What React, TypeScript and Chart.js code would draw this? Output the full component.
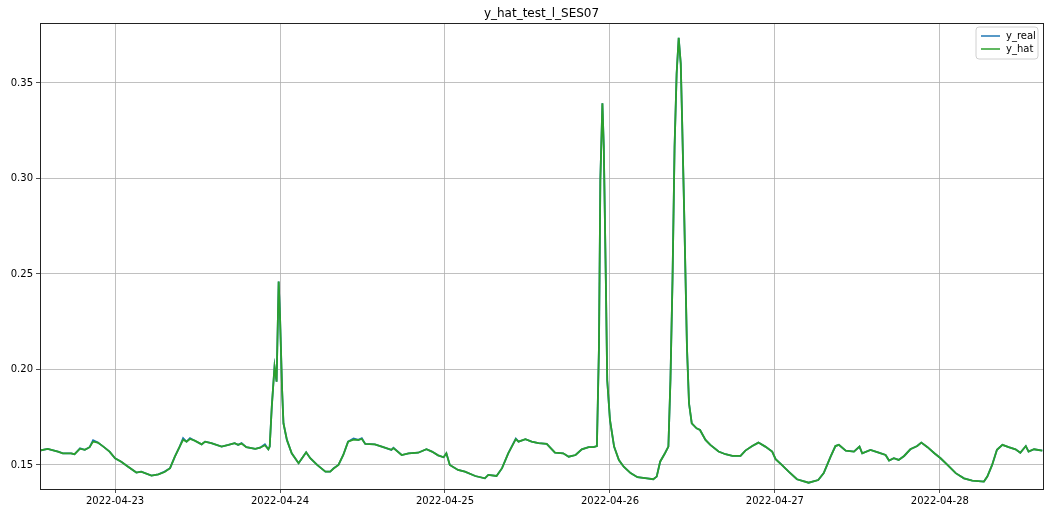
import { useEffect, useRef } from "react";
import { Chart, registerables } from "chart.js";

Chart.register(...registerables);

const TITLE = "y_hat_test_l_SES07";

// hours since 2022-04-22 00:00
const hours = [
  13.0, 14.2, 15.7, 16.4, 17.6, 18.1, 18.9, 19.6, 20.3, 20.8, 21.5, 22.3, 23.2, 24.0, 24.9, 25.9, 27.1, 27.8,
  29.3, 30.3, 31.2, 32.0, 32.7, 33.4, 33.9, 34.4, 34.9, 35.6, 36.6, 37.1, 38.0, 39.5, 40.5, 41.4, 41.9, 42.4,
  43.1, 44.4, 45.1, 45.8, 46.3, 46.5, 46.8, 47.2, 47.5, 47.8, 48.0, 48.3, 48.5, 49.0, 49.7, 50.7, 51.2, 51.8,
  52.4, 53.4, 54.6, 55.3, 55.8, 56.5, 57.2, 57.9, 58.7, 59.4, 59.9, 60.4, 61.8, 62.8, 64.2, 64.5, 65.7, 66.7,
  68.1, 69.3, 70.1, 71.0, 71.8, 72.2, 72.7, 73.9, 74.9, 76.4, 77.8, 78.3, 79.5, 80.3, 81.2, 82.3, 82.7, 83.7,
  84.6, 85.6, 86.8, 88.0, 89.2, 90.0, 91.0, 91.9, 92.9, 93.6, 94.1, 94.4, 94.6, 94.9, 95.1, 95.4, 95.6, 96.0,
  96.6, 97.3, 98.0, 99.0, 100.0, 101.4, 102.3, 102.8, 103.3, 104.0, 104.5, 104.8, 105.1, 105.4, 105.7, 106.0,
  106.3, 106.5, 106.8, 107.2, 107.5, 107.9, 108.6, 109.1, 109.9, 110.6, 111.8, 112.8, 113.8, 115.0, 115.7,
  116.7, 117.6, 118.6, 119.6, 120.1, 121.0, 122.0, 123.2, 124.9, 126.3, 127.1, 128.1, 128.8, 129.3, 130.3,
  131.5, 132.3, 132.7, 133.9, 135.1, 136.1, 136.6, 137.3, 138.0, 138.8, 139.7, 140.7, 141.3, 142.2, 143.2,
  144.1, 145.1, 146.3, 147.5, 148.7, 150.4, 150.9, 151.6, 152.3, 153.1, 154.0, 155.0, 155.7, 156.5, 156.9,
  157.7, 158.9,
];

const yReal = [
  0.1575, 0.1584, 0.157, 0.1561, 0.1561, 0.1556, 0.1587, 0.1579, 0.1593, 0.163, 0.1617, 0.1596, 0.157, 0.1535, 0.1517, 0.1491, 0.146, 0.1465,
  0.1444, 0.1451, 0.1465, 0.1483, 0.1543, 0.1596, 0.164, 0.1622, 0.164, 0.1627, 0.1608, 0.1622, 0.1614, 0.1596, 0.1605, 0.1614, 0.1605, 0.1614,
  0.1593, 0.1584, 0.159, 0.1608, 0.1582, 0.1596, 0.1805, 0.2015, 0.1936, 0.246, 0.2276, 0.1893, 0.1718, 0.1631, 0.1561, 0.1509, 0.1535, 0.1566,
  0.1535, 0.15, 0.1465, 0.1465, 0.1483, 0.15, 0.1552, 0.1622, 0.1638, 0.1631, 0.164, 0.161, 0.1608, 0.1596, 0.1579, 0.159, 0.1552, 0.1561,
  0.1564, 0.1582, 0.157, 0.155, 0.154, 0.1561, 0.15, 0.1474, 0.1465, 0.1442, 0.143, 0.1448, 0.1442, 0.1483, 0.1561, 0.1638, 0.1622, 0.1635,
  0.1622, 0.1614, 0.161, 0.1564, 0.1561, 0.1543, 0.1552, 0.1582, 0.1593, 0.1593, 0.1599, 0.2119, 0.2992, 0.3394, 0.3167, 0.2469, 0.1945, 0.1736,
  0.1596, 0.1526, 0.1491, 0.1457, 0.1436, 0.143, 0.1425, 0.1439, 0.1517, 0.1561, 0.1596, 0.1945, 0.2469, 0.3167, 0.355, 0.3736,
  0.36, 0.33, 0.2818, 0.2119, 0.1823, 0.1718, 0.1692, 0.1683, 0.1631, 0.1605, 0.157, 0.1556, 0.1547, 0.1547, 0.1575,
  0.1599, 0.1617, 0.1596, 0.157, 0.153, 0.15, 0.1465, 0.1425, 0.1407, 0.1421, 0.1457, 0.1543, 0.1599, 0.1605, 0.1575,
  0.157, 0.1596, 0.1561, 0.1579, 0.1564, 0.1552, 0.1523, 0.1535, 0.1526, 0.1547, 0.1582, 0.1599, 0.1617, 0.1593, 0.1561,
  0.1535, 0.15, 0.1457, 0.143, 0.1418, 0.1413, 0.1439, 0.15, 0.1579, 0.1605, 0.1593, 0.1582, 0.1564, 0.1599, 0.157,
  0.1582, 0.1575,
];

const yHat = [
  0.1575, 0.1584, 0.157, 0.1561, 0.1561, 0.1556, 0.1585, 0.1579, 0.1593, 0.1622, 0.1617, 0.1596, 0.157, 0.1535, 0.1517, 0.1491, 0.146, 0.1465,
  0.1444, 0.1451, 0.1463, 0.1483, 0.1543, 0.1596, 0.1632, 0.1622, 0.1636, 0.1627, 0.1608, 0.1622, 0.1614, 0.1596, 0.1605, 0.1614, 0.1605, 0.1612,
  0.1593, 0.1584, 0.159, 0.1603, 0.1582, 0.1596, 0.1805, 0.2015, 0.1936, 0.246, 0.2276, 0.1893, 0.1718, 0.1631, 0.1561, 0.1509, 0.1535, 0.1566,
  0.1535, 0.15, 0.1465, 0.1465, 0.1481, 0.15, 0.1552, 0.1622, 0.1632, 0.1631, 0.1636, 0.161, 0.1608, 0.1596, 0.1579, 0.1588, 0.1552, 0.1561,
  0.1564, 0.1582, 0.157, 0.155, 0.154, 0.1561, 0.15, 0.1474, 0.1465, 0.1442, 0.143, 0.1448, 0.1442, 0.1483, 0.1561, 0.1635, 0.1622, 0.1635,
  0.1622, 0.1614, 0.161, 0.1564, 0.1561, 0.1543, 0.1552, 0.1582, 0.1593, 0.1593, 0.1599, 0.2119, 0.2992, 0.3394, 0.3167, 0.2469, 0.1945, 0.1736,
  0.1596, 0.1526, 0.1491, 0.1457, 0.1436, 0.143, 0.1425, 0.1439, 0.1517, 0.1561, 0.1596, 0.1945, 0.2469, 0.3167, 0.355, 0.3736,
  0.36, 0.33, 0.2818, 0.2119, 0.1823, 0.1718, 0.1692, 0.1683, 0.1631, 0.1605, 0.157, 0.1556, 0.1547, 0.1547, 0.1575,
  0.1599, 0.1617, 0.1596, 0.157, 0.153, 0.15, 0.1465, 0.1425, 0.1407, 0.1421, 0.1457, 0.1543, 0.1599, 0.1605, 0.1575,
  0.157, 0.1596, 0.1561, 0.1579, 0.1564, 0.1552, 0.1523, 0.1535, 0.1526, 0.1547, 0.1582, 0.1599, 0.1617, 0.1593, 0.1561,
  0.1535, 0.15, 0.1457, 0.143, 0.1418, 0.1413, 0.1439, 0.15, 0.1579, 0.1605, 0.1593, 0.1582, 0.1564, 0.1599, 0.157,
  0.1582, 0.1575,
];

const dayTicks = [24, 48, 72, 96, 120, 144];
const dayLabels = ["2022-04-23", "2022-04-24", "2022-04-25", "2022-04-26", "2022-04-27", "2022-04-28"];
const yTicks = [0.15, 0.2, 0.25, 0.3, 0.35];

const seriesNames = ["y_real", "y_hat"];
const seriesColors = ["#1f77b4", "#2ca02c"];

const FONT = "DejaVu Sans";

const decorPlugin = {
  id: "decor",
  afterDraw(chart: any) {
    const { ctx, chartArea } = chart;
    const { left, right, top, bottom } = chartArea;
    ctx.save();
    // frame
    ctx.strokeStyle = "#222";
    ctx.lineWidth = 1;
    ctx.strokeRect(Math.round(left) + 0.5, Math.round(top) + 0.5, Math.round(right - left), Math.round(bottom - top));
    // title
    ctx.fillStyle = "#000";
    ctx.font = `12px ${FONT}`;
    ctx.textAlign = "center";
    ctx.textBaseline = "middle";
    ctx.fillText(TITLE, (left + right) / 2, 14);
    // legend
    const bx = right - 67;
    const by = top + 4;
    const bw = 62;
    const bh = 32;
    ctx.beginPath();
    const r = 3;
    ctx.moveTo(bx + r, by);
    ctx.lineTo(bx + bw - r, by);
    ctx.quadraticCurveTo(bx + bw, by, bx + bw, by + r);
    ctx.lineTo(bx + bw, by + bh - r);
    ctx.quadraticCurveTo(bx + bw, by + bh, bx + bw - r, by + bh);
    ctx.lineTo(bx + r, by + bh);
    ctx.quadraticCurveTo(bx, by + bh, bx, by + bh - r);
    ctx.lineTo(bx, by + r);
    ctx.quadraticCurveTo(bx, by, bx + r, by);
    ctx.closePath();
    ctx.fillStyle = "rgba(255,255,255,0.8)";
    ctx.fill();
    ctx.strokeStyle = "#d0d0d0";
    ctx.lineWidth = 1;
    ctx.stroke();
    ctx.font = `10px ${FONT}`;
    ctx.textAlign = "left";
    ctx.textBaseline = "middle";
    seriesNames.forEach((name, i) => {
      const yy = by + 9 + i * 13;
      ctx.strokeStyle = seriesColors[i];
      ctx.lineWidth = 1.5;
      ctx.beginPath();
      ctx.moveTo(bx + 5, yy);
      ctx.lineTo(bx + 24, yy);
      ctx.stroke();
      ctx.fillStyle = "#000";
      ctx.fillText(name, bx + 30, yy);
    });
    ctx.restore();
  },
};

export default function App() {
  const ref = useRef<HTMLCanvasElement>(null);
  useEffect(() => {
    document.body.style.margin = "0";
    const canvas = ref.current;
    if (!canvas) return;
    const chart = new Chart(canvas, {
      type: "line",
      data: {
        datasets: [
          {
            label: seriesNames[0],
            data: hours.map((h, i) => ({ x: h, y: yReal[i] })),
            borderColor: seriesColors[0],
            backgroundColor: seriesColors[0],
            borderWidth: 1.8,
            pointRadius: 0,
            tension: 0,
            order: 1,
          },
          {
            label: seriesNames[1],
            data: hours.map((h, i) => ({ x: h, y: yHat[i] })),
            borderColor: seriesColors[1],
            backgroundColor: seriesColors[1],
            borderWidth: 1.8,
            pointRadius: 0,
            tension: 0,
            order: 0,
          },
        ],
      },
      options: {
        responsive: false,
        animation: false,
        layout: { padding: { top: 23, right: 7, left: 0, bottom: 0 } },
        plugins: {
          legend: { display: false },
          title: { display: false },
          tooltip: { enabled: false },
        },
        scales: {
          x: {
            type: "linear",
            min: 13.08,
            max: 159.0,
            afterBuildTicks: (s: any) => {
              s.ticks = dayTicks.map((v) => ({ value: v }));
            },
            afterFit: (s: any) => {
              s.height = 23;
            },
            ticks: {
              autoSkip: false,
              maxRotation: 0,
              padding: 2,
              color: "#000",
              font: { family: FONT, size: 10 },
              callback: (v: any) => {
                const i = dayTicks.indexOf(Number(v));
                return i >= 0 ? dayLabels[i] : "";
              },
            },
            grid: { color: "#b0b0b0", lineWidth: 0.8, tickColor: "#222", tickLength: 4 },
            border: { color: "#222", width: 1 },
          },
          y: {
            type: "linear",
            min: 0.1374,
            max: 0.3814,
            afterBuildTicks: (s: any) => {
              s.ticks = yTicks.map((v) => ({ value: v }));
            },
            afterFit: (s: any) => {
              s.width = 40;
            },
            ticks: {
              autoSkip: false,
              padding: 3,
              color: "#000",
              font: { family: FONT, size: 10 },
              callback: (v: any) => Number(v).toFixed(2),
            },
            grid: { color: "#b0b0b0", lineWidth: 0.8, tickColor: "#222", tickLength: 4 },
            border: { color: "#222", width: 1 },
          },
        },
      },
      plugins: [decorPlugin],
    });
    return () => chart.destroy();
  }, []);
  return (
    <div style={{ width: 1050, height: 512 }}>
      <canvas ref={ref} width={1050} height={512} style={{ display: "block", width: 1050, height: 512 }} />
    </div>
  );
}
